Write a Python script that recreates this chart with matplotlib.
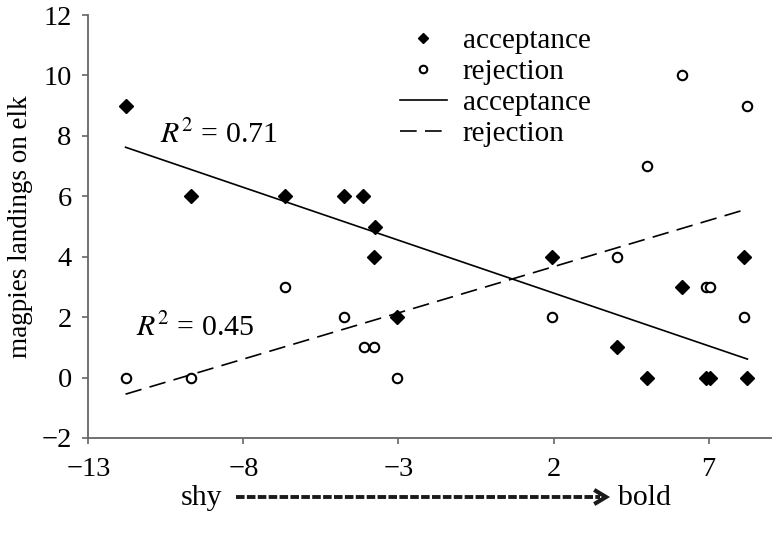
import numpy as np
import matplotlib
matplotlib.use('Agg')
import matplotlib.pyplot as plt
from matplotlib.lines import Line2D

# Boldness score vs magpie landings
acc_x = [-11.8, -9.7, -6.65, -4.75, -4.15, -3.75, -3.8, -3.05,
         1.95, 4.05, 5.0, 6.15, 6.9, 7.05, 8.15, 8.25]
acc_y = [9, 6, 6, 6, 6, 5, 4, 2, 4, 1, 0, 3, 0, 0, 4, 0]

rej_x = [-11.8, -9.7, -6.65, -4.75, -4.1, -3.8, -3.05,
         1.95, 4.05, 5.0, 6.15, 6.9, 7.05, 8.15, 8.25]
rej_y = [0, 0, 3, 2, 1, 1, 0, 2, 4, 7, 10, 3, 3, 2, 9]

x_ticks = [-13, -8, -3, 2, 7]
y_ticks = [-2, 0, 2, 4, 6, 8, 10, 12]

plt.rcParams['font.family'] = 'Liberation Serif'
plt.rcParams['mathtext.fontset'] = 'stix'

fig = plt.figure(figsize=(7.72, 5.37), dpi=100)
ax = fig.add_axes([0.1144, 0.1844, 0.8839, 0.7876])

ax.plot(acc_x, acc_y, 'D', color='black', ms=6.8, label='acceptance', zorder=3)
ax.plot(rej_x, rej_y, 'o', mfc='white', mec='black', mew=1.5, ms=6.8,
        label='rejection', zorder=3)

# linear fits, drawn over the range of the data
xs = np.array([min(acc_x), max(acc_x)])
a = np.polyfit(acc_x, acc_y, 1)
ax.plot(xs, np.polyval(a, xs), '-', color='black', lw=1.2, label='acceptance')
xs = np.array([min(rej_x), max(rej_x)])
r = np.polyfit(rej_x, rej_y, 1)
ax.plot(xs, np.polyval(r, xs), color='black', lw=1.2, dashes=(10, 5),
        label='rejection')

ax.text(-10.7, 8.05, r'$R^2$ = 0.71', fontsize=21.5, va='center')
ax.text(-11.45, 1.65, r'$R^2$ = 0.45', fontsize=21.5, va='center')

ax.set_xlim(-13, 9)
ax.set_ylim(-2, 12)
ax.set_xticks(x_ticks)
ax.set_yticks(y_ticks)
ax.set_xticklabels([str(t).replace('-', '\u2212') for t in x_ticks])
ax.set_yticklabels([str(t).replace('-', '\u2212') for t in y_ticks])
ax.tick_params(labelsize=20.5, length=4, width=1.2, color='#666666', pad=8)
ax.tick_params(axis='x', pad=10)
for s in ['top', 'right']:
    ax.spines[s].set_visible(False)
for s in ['left', 'bottom']:
    ax.spines[s].set_color('#666666')
    ax.spines[s].set_linewidth(1.3)

ax.set_ylabel('magpies landings on elk', fontsize=19.5, labelpad=6)

ax.legend(loc='upper left', bbox_to_anchor=(400 / 772, 1 - 28 / 537),
          bbox_transform=fig.transFigure, frameon=False, fontsize=21,
          handlelength=1.6, handletextpad=0.55, labelspacing=0.15,
          borderpad=0, borderaxespad=0, markerscale=0.8)

# shy ---> bold arrow below the axis
fig.text(222 / 772, 1 - 498 / 537, 'shy', fontsize=21.5, ha='right', va='center')
fig.text(618 / 772, 1 - 498 / 537, 'bold', fontsize=21.5, ha='left', va='center')
fig.add_artist(Line2D([236 / 772, 600 / 772], [1 - 497 / 537] * 2,
                      color='#1a1a1a', lw=2.8, dashes=(2.2, 0.6),
                      transform=fig.transFigure))
fig.add_artist(Line2D([596 / 772, 606 / 772, 596 / 772],
                      [1 - 491 / 537, 1 - 497 / 537, 1 - 503 / 537],
                      color='#1a1a1a', lw=3, solid_joinstyle='miter',
                      transform=fig.transFigure))

fig.savefig('out.png', dpi=100)
